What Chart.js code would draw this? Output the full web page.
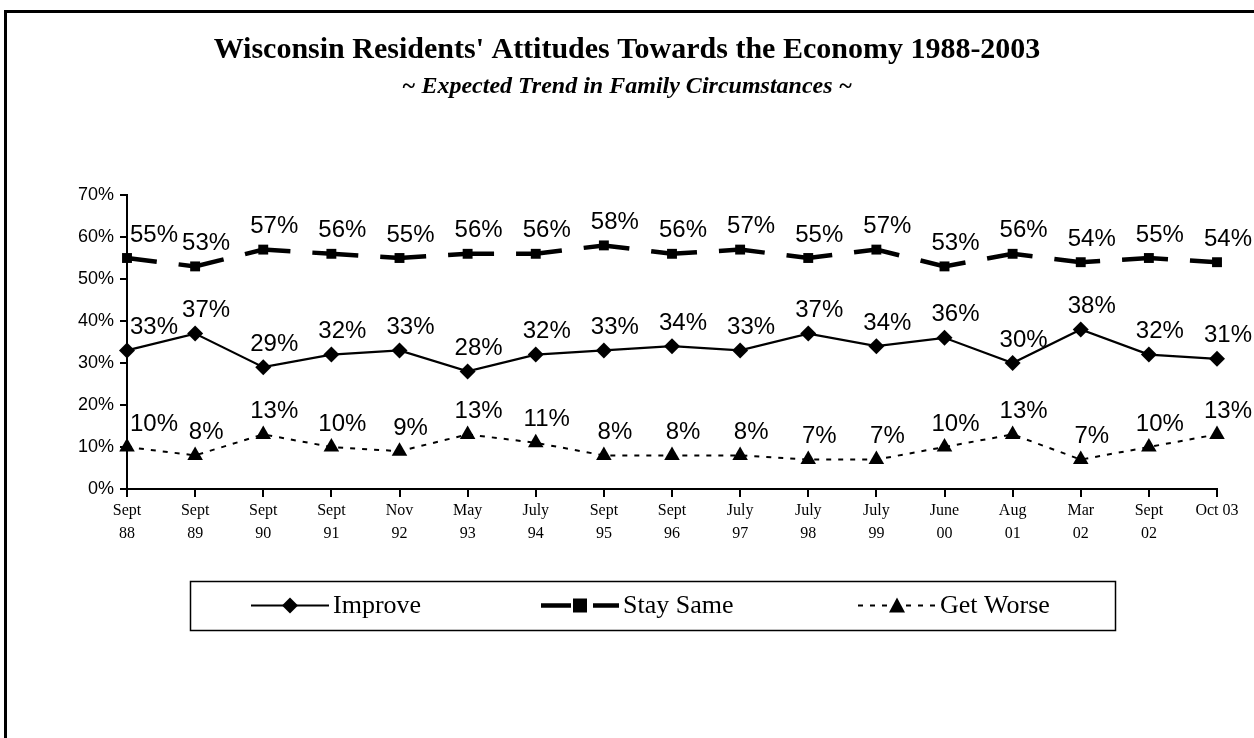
<!DOCTYPE html>
<html>
<head>
<meta charset="utf-8">
<style>
  html, body { margin: 0; padding: 0; background: #fff; }
  #wrap { position: relative; width: 1254px; height: 738px; }
  canvas { display: block; }
</style>
<script src="https://cdn.jsdelivr.net/npm/chart.js@4.4.1/dist/chart.umd.min.js"></script>
</head>
<body>
<div id="wrap"><canvas id="c" width="1254" height="738"></canvas></div>
<script>
const categories = [["Sept","88"],["Sept","89"],["Sept","90"],["Sept","91"],["Nov","92"],["May","93"],["July","94"],["Sept","95"],["Sept","96"],["July","97"],["July","98"],["July","99"],["June","00"],["Aug","01"],["Mar","02"],["Sept","02"],"Oct 03"];
const improve   = [33,37,29,32,33,28,32,33,34,33,37,34,36,30,38,32,31];
const staySame  = [55,53,57,56,55,56,56,58,56,57,55,57,53,56,54,55,54];
const getWorse  = [10,8,13,10,9,13,11,8,8,8,7,7,10,13,7,10,13];
const yTicks = [0,10,20,30,40,50,60,70];
const titleText = "Wisconsin Residents' Attitudes Towards the Economy 1988-2003";
const subtitleText = "~ Expected Trend in Family Circumstances ~";
const seriesNames = ["Improve","Stay Same","Get Worse"];

const SANS = "'Liberation Sans', Arial, sans-serif";
const SERIF = "'Liberation Serif', 'Times New Roman', serif";

function drawMarker(ctx, style, mx, my) {
  ctx.beginPath();
  if (style === 'rectRot') {
    const r = 8;
    ctx.moveTo(mx, my - r); ctx.lineTo(mx + r, my); ctx.lineTo(mx, my + r); ctx.lineTo(mx - r, my);
  } else if (style === 'rect') {
    ctx.rect(mx - 7, my - 7, 14, 14);
  } else {
    ctx.moveTo(mx, my - 8); ctx.lineTo(mx + 8, my + 7); ctx.lineTo(mx - 8, my + 7);
  }
  ctx.closePath();
  ctx.fill();
}

const framePlugin = {
  id: 'frame',
  beforeDraw(chart) {
    const ctx = chart.ctx;
    ctx.save();
    ctx.fillStyle = '#fff';
    ctx.fillRect(0, 0, chart.width, chart.height);
    ctx.strokeStyle = '#000';
    ctx.lineWidth = 3;
    ctx.beginPath();
    ctx.moveTo(1260, 11.5);
    ctx.lineTo(5.5, 11.5);
    ctx.lineTo(5.5, 745);
    ctx.stroke();
    ctx.fillStyle = '#000';
    ctx.textAlign = 'center';
    ctx.textBaseline = 'alphabetic';
    ctx.font = "bold 30px " + SERIF;
    ctx.fillText(titleText, 627, 58);
    ctx.font = "italic bold 24px " + SERIF;
    ctx.fillText(subtitleText, 627, 93);
    ctx.restore();
  },
  afterDraw(chart) {
    const ctx = chart.ctx;
    ctx.save();
    ctx.fillStyle = '#000';
    ctx.font = "24px " + SANS;
    ctx.textAlign = 'center';
    ctx.textBaseline = 'middle';
    const left = chart.chartArea.left;
    const right = chart.width - 2;
    chart.data.datasets.forEach((ds, di) => {
      const meta = chart.getDatasetMeta(di);
      meta.data.forEach((pt, i) => {
        const txt = ds.data[i] + '%';
        const w = ctx.measureText(txt).width;
        let x = pt.x + 11;
        if (x - w / 2 < left + 3) x = left + 3 + w / 2;
        if (x + w / 2 > right) x = right - w / 2;
        ctx.fillText(txt, x, pt.y - 23);
      });
    });
    // legend
    const bx = 190, by = 581, bw = 925, bh = 49;
    ctx.lineWidth = 1.5;
    ctx.strokeStyle = '#000';
    ctx.strokeRect(bx + 0.5, by + 0.5, bw, bh);
    const cy = by + bh / 2;
    const items = [
      { x: 251, ds: 0 },
      { x: 541, ds: 1 },
      { x: 858, ds: 2 }
    ];
    items.forEach(it => {
      const ds = chart.data.datasets[it.ds];
      ctx.save();
      ctx.strokeStyle = '#000';
      ctx.lineWidth = ds.borderWidth;
      ctx.setLineDash(ds.borderDash || []);
      ctx.lineDashOffset = ds.borderDashOffset || 0;
      ctx.beginPath();
      ctx.moveTo(it.x, cy);
      ctx.lineTo(it.x + 78, cy);
      ctx.stroke();
      ctx.setLineDash([]);
      ctx.fillStyle = '#000';
      drawMarker(ctx, ds.pointStyle, it.x + 39, cy);
      ctx.restore();
      ctx.fillStyle = '#000';
      ctx.font = "26px " + SERIF;
      ctx.textAlign = 'left';
      ctx.textBaseline = 'middle';
      ctx.fillText(ds.label, it.x + 82, cy + 1);
    });
    ctx.restore();
  }
};

new Chart(document.getElementById('c'), {
  type: 'line',
  data: {
    labels: categories,
    datasets: [
      { label: seriesNames[0], data: improve, borderColor: '#000', backgroundColor: '#000', borderWidth: 2.2,
        pointStyle: 'rectRot', pointRadius: 8, pointBackgroundColor: '#000', pointBorderWidth: 0, tension: 0 },
      { label: seriesNames[1], data: staySame, borderColor: '#000', backgroundColor: '#000', borderWidth: 4.5,
        borderDash: [46, 22], borderDashOffset: 16, pointStyle: 'rect', pointRadius: 7, pointBackgroundColor: '#000', pointBorderWidth: 0, tension: 0 },
      { label: seriesNames[2], data: getWorse, borderColor: '#000', backgroundColor: '#000', borderWidth: 2,
        borderDash: [5, 7], pointStyle: 'triangle', pointRadius: 9, pointBackgroundColor: '#000', pointBorderWidth: 0, tension: 0 }
    ]
  },
  options: {
    responsive: false,
    animation: false,
    events: [],
    layout: { padding: { left: 60, right: 37, top: 195, bottom: 179 } },
    plugins: { legend: { display: false }, title: { display: false }, tooltip: { enabled: false } },
    scales: {
      x: {
        offset: false,
        grid: { display: true, drawOnChartArea: false, drawTicks: true, tickLength: 8, color: '#000', lineWidth: 2 },
        border: { display: true, color: '#000', width: 2 },
        ticks: { color: '#000', font: { family: SERIF, size: 16, lineHeight: 1.4 }, maxRotation: 0, autoSkip: false, padding: 3 },
        afterFit(s) { s.height = 70; }
      },
      y: {
        min: 0, max: 70,
        afterBuildTicks(s) { s.ticks = yTicks.map(v => ({ value: v })); },
        grid: { display: true, drawOnChartArea: false, drawTicks: true, tickLength: 7, color: '#000', lineWidth: 2 },
        border: { display: true, color: '#000', width: 2 },
        ticks: { color: '#000', font: { family: SANS, size: 18 }, padding: 6, callback: v => v + '%' },
        afterFit(s) { s.width = 67; }
      }
    }
  },
  plugins: [framePlugin]
});
</script>
</body>
</html>
